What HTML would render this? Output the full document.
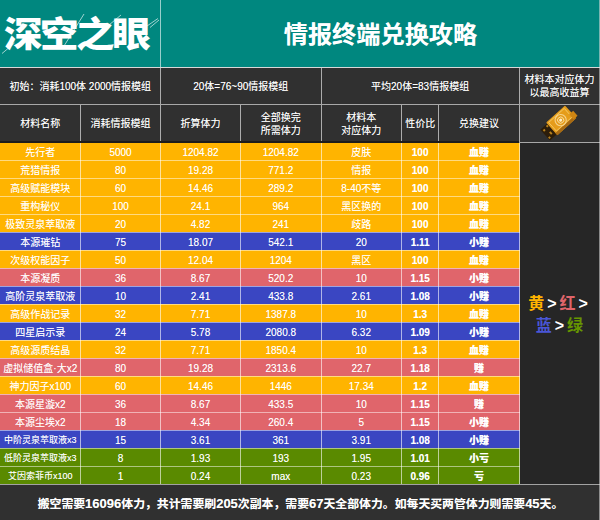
<!DOCTYPE html><html lang="zh"><head><meta charset="utf-8"><title>情报终端兑换攻略</title><style>
html,body{margin:0;padding:0;background:#2b2b2b;}
body{width:600px;height:520px;overflow:hidden;position:relative;font-family:"Liberation Sans","Noto Sans CJK SC",sans-serif;color:#fff;}
.a{position:absolute;}
.c{position:absolute;display:flex;align-items:center;justify-content:center;text-align:center;font-size:10px;line-height:13px;white-space:nowrap;}
.o{background:#ffb400;}.b{background:#3a46c2;}.r{background:#e0656b;}.g{background:#5a8a00;}
.bd{font-weight:bold;}.bk{font-weight:900;}
.c{text-shadow:0 0 0.6px rgba(255,255,255,.55);}
.vl{position:absolute;width:1px;background:rgba(255,255,255,.6);}
.hl{position:absolute;height:1px;background:rgba(255,255,255,.5);}
.hd{background:#303030;}
#foot b{font-size:13px;}

</style></head><body>
<div class="a" style="left:0;top:0;width:600px;height:67px;background:#00877f"></div>
<div class="a" id="logo" style="left:3.7px;top:9px;width:160px;height:52px;font-size:35.2px;line-height:52px;font-weight:900;font-family:'Liberation Sans','Noto Sans CJK SC',sans-serif;white-space:nowrap;letter-spacing:-2.3px;transform-origin:0 50%;transform:scale(1.095,1)">深空之眼</div>
<svg class="a" style="left:0;top:0" width="165" height="67" viewBox="0 0 165 67"><g stroke="rgba(255,255,255,.7)" stroke-width="0.9" fill="none"><path d="M2 53.5L14.5 43"/><path d="M64 46L84 14"/><path d="M109 25L121 15"/><path d="M147 26L158 18.5"/><path d="M150 27.5L159 20"/></g></svg>
<div class="c bd" id="title" style="left:160.5px;top:9.5px;width:440px;height:50px;font-size:24.2px;line-height:30px;">情报终端兑换攻略</div>
<div class="a hd" style="left:0;top:68px;width:600px;height:74.3px"></div>
<div class="a" style="left:519.7px;top:142px;width:81px;height:343px;background:#262626"></div>
<div class="c " style="left:0px;top:68px;width:160.50px;height:36.50px;">初始：消耗100体 2000情报模组</div>
<div class="c " style="left:160.5px;top:68px;width:160.50px;height:36.50px;">20体=76~90情报模组</div>
<div class="c " style="left:321px;top:68px;width:198.20px;height:36.50px;">平均20体=83情报模组</div>
<div class="c " style="left:519.2px;top:68px;width:80.80px;height:36.50px;">材料本对应体力<br>以最高收益算</div>
<div class="c " style="left:0px;top:105px;width:80.50px;height:37.00px;">材料名称</div>
<div class="c " style="left:80.5px;top:105px;width:80.00px;height:37.00px;">消耗情报模组</div>
<div class="c " style="left:160.5px;top:105px;width:80.00px;height:37.00px;">折算体力</div>
<div class="c " style="left:240.5px;top:105px;width:80.50px;height:37.00px;">全部换完<br>所需体力</div>
<div class="c " style="left:321px;top:105px;width:80.50px;height:37.00px;">材料本<br>对应体力</div>
<div class="c " style="left:401.5px;top:105px;width:37.30px;height:37.00px;">性价比</div>
<div class="c " style="left:438.8px;top:105px;width:80.40px;height:37.00px;">兑换建议</div>
<div class="a o" style="left:0;top:142.40px;width:519.7px;height:18.29px"></div>
<div class="c " style="left:0px;top:144.0px;width:80.50px;height:16.39px;">先行者</div>
<div class="c " style="left:80.5px;top:144.0px;width:80.00px;height:16.39px;">5000</div>
<div class="c " style="left:160.5px;top:144.0px;width:80.00px;height:16.39px;">1204.82</div>
<div class="c " style="left:240.5px;top:144.0px;width:80.50px;height:16.39px;">1204.82</div>
<div class="c " style="left:321px;top:144.0px;width:80.50px;height:16.39px;">皮肤</div>
<div class="c bd" style="left:401.5px;top:144.0px;width:37.30px;height:16.39px;">100</div>
<div class="c bk" style="left:438.8px;top:144.0px;width:80.40px;height:16.39px;">血赚</div>
<div class="a o" style="left:0;top:160.39px;width:519.7px;height:18.29px"></div>
<div class="c " style="left:0px;top:161.99px;width:80.50px;height:16.39px;">荒猎情报</div>
<div class="c " style="left:80.5px;top:161.99px;width:80.00px;height:16.39px;">80</div>
<div class="c " style="left:160.5px;top:161.99px;width:80.00px;height:16.39px;">19.28</div>
<div class="c " style="left:240.5px;top:161.99px;width:80.50px;height:16.39px;">771.2</div>
<div class="c " style="left:321px;top:161.99px;width:80.50px;height:16.39px;">情报</div>
<div class="c bd" style="left:401.5px;top:161.99px;width:37.30px;height:16.39px;">100</div>
<div class="c bk" style="left:438.8px;top:161.99px;width:80.40px;height:16.39px;">血赚</div>
<div class="a o" style="left:0;top:178.38px;width:519.7px;height:18.29px"></div>
<div class="c " style="left:0px;top:179.98px;width:80.50px;height:16.39px;">高级赋能模块</div>
<div class="c " style="left:80.5px;top:179.98px;width:80.00px;height:16.39px;">60</div>
<div class="c " style="left:160.5px;top:179.98px;width:80.00px;height:16.39px;">14.46</div>
<div class="c " style="left:240.5px;top:179.98px;width:80.50px;height:16.39px;">289.2</div>
<div class="c " style="left:321px;top:179.98px;width:80.50px;height:16.39px;">8-40不等</div>
<div class="c bd" style="left:401.5px;top:179.98px;width:37.30px;height:16.39px;">100</div>
<div class="c bk" style="left:438.8px;top:179.98px;width:80.40px;height:16.39px;">血赚</div>
<div class="a o" style="left:0;top:196.37px;width:519.7px;height:18.29px"></div>
<div class="c " style="left:0px;top:197.97px;width:80.50px;height:16.39px;">重构秘仪</div>
<div class="c " style="left:80.5px;top:197.97px;width:80.00px;height:16.39px;">100</div>
<div class="c " style="left:160.5px;top:197.97px;width:80.00px;height:16.39px;">24.1</div>
<div class="c " style="left:240.5px;top:197.97px;width:80.50px;height:16.39px;">964</div>
<div class="c " style="left:321px;top:197.97px;width:80.50px;height:16.39px;">黑区换的</div>
<div class="c bd" style="left:401.5px;top:197.97px;width:37.30px;height:16.39px;">100</div>
<div class="c bk" style="left:438.8px;top:197.97px;width:80.40px;height:16.39px;">血赚</div>
<div class="a o" style="left:0;top:214.36px;width:519.7px;height:18.29px"></div>
<div class="c " style="left:0px;top:215.96px;width:80.50px;height:16.39px;">极致灵泉萃取液</div>
<div class="c " style="left:80.5px;top:215.96px;width:80.00px;height:16.39px;">20</div>
<div class="c " style="left:160.5px;top:215.96px;width:80.00px;height:16.39px;">4.82</div>
<div class="c " style="left:240.5px;top:215.96px;width:80.50px;height:16.39px;">241</div>
<div class="c " style="left:321px;top:215.96px;width:80.50px;height:16.39px;">歧路</div>
<div class="c bd" style="left:401.5px;top:215.96px;width:37.30px;height:16.39px;">100</div>
<div class="c bk" style="left:438.8px;top:215.96px;width:80.40px;height:16.39px;">血赚</div>
<div class="a b" style="left:0;top:232.35px;width:519.7px;height:18.29px"></div>
<div class="c " style="left:0px;top:233.95px;width:80.50px;height:16.39px;">本源璀钻</div>
<div class="c " style="left:80.5px;top:233.95px;width:80.00px;height:16.39px;">75</div>
<div class="c " style="left:160.5px;top:233.95px;width:80.00px;height:16.39px;">18.07</div>
<div class="c " style="left:240.5px;top:233.95px;width:80.50px;height:16.39px;">542.1</div>
<div class="c " style="left:321px;top:233.95px;width:80.50px;height:16.39px;">20</div>
<div class="c bd" style="left:401.5px;top:233.95px;width:37.30px;height:16.39px;">1.11</div>
<div class="c bk" style="left:438.8px;top:233.95px;width:80.40px;height:16.39px;">小赚</div>
<div class="a o" style="left:0;top:250.34px;width:519.7px;height:18.29px"></div>
<div class="c " style="left:0px;top:251.94px;width:80.50px;height:16.39px;">次级权能因子</div>
<div class="c " style="left:80.5px;top:251.94px;width:80.00px;height:16.39px;">50</div>
<div class="c " style="left:160.5px;top:251.94px;width:80.00px;height:16.39px;">12.04</div>
<div class="c " style="left:240.5px;top:251.94px;width:80.50px;height:16.39px;">1204</div>
<div class="c " style="left:321px;top:251.94px;width:80.50px;height:16.39px;">黑区</div>
<div class="c bd" style="left:401.5px;top:251.94px;width:37.30px;height:16.39px;">100</div>
<div class="c bk" style="left:438.8px;top:251.94px;width:80.40px;height:16.39px;">血赚</div>
<div class="a r" style="left:0;top:268.33px;width:519.7px;height:18.29px"></div>
<div class="c " style="left:0px;top:269.93px;width:80.50px;height:16.39px;">本源凝质</div>
<div class="c " style="left:80.5px;top:269.93px;width:80.00px;height:16.39px;">36</div>
<div class="c " style="left:160.5px;top:269.93px;width:80.00px;height:16.39px;">8.67</div>
<div class="c " style="left:240.5px;top:269.93px;width:80.50px;height:16.39px;">520.2</div>
<div class="c " style="left:321px;top:269.93px;width:80.50px;height:16.39px;">10</div>
<div class="c bd" style="left:401.5px;top:269.93px;width:37.30px;height:16.39px;">1.15</div>
<div class="c bk" style="left:438.8px;top:269.93px;width:80.40px;height:16.39px;">小赚</div>
<div class="a b" style="left:0;top:286.32px;width:519.7px;height:18.29px"></div>
<div class="c " style="left:0px;top:287.92px;width:80.50px;height:16.39px;">高阶灵泉萃取液</div>
<div class="c " style="left:80.5px;top:287.92px;width:80.00px;height:16.39px;">10</div>
<div class="c " style="left:160.5px;top:287.92px;width:80.00px;height:16.39px;">2.41</div>
<div class="c " style="left:240.5px;top:287.92px;width:80.50px;height:16.39px;">433.8</div>
<div class="c " style="left:321px;top:287.92px;width:80.50px;height:16.39px;">2.61</div>
<div class="c bd" style="left:401.5px;top:287.92px;width:37.30px;height:16.39px;">1.08</div>
<div class="c bk" style="left:438.8px;top:287.92px;width:80.40px;height:16.39px;">小赚</div>
<div class="a o" style="left:0;top:304.31px;width:519.7px;height:18.29px"></div>
<div class="c " style="left:0px;top:305.91px;width:80.50px;height:16.39px;">高级作战记录</div>
<div class="c " style="left:80.5px;top:305.91px;width:80.00px;height:16.39px;">32</div>
<div class="c " style="left:160.5px;top:305.91px;width:80.00px;height:16.39px;">7.71</div>
<div class="c " style="left:240.5px;top:305.91px;width:80.50px;height:16.39px;">1387.8</div>
<div class="c " style="left:321px;top:305.91px;width:80.50px;height:16.39px;">10</div>
<div class="c bd" style="left:401.5px;top:305.91px;width:37.30px;height:16.39px;">1.3</div>
<div class="c bk" style="left:438.8px;top:305.91px;width:80.40px;height:16.39px;">血赚</div>
<div class="a b" style="left:0;top:322.30px;width:519.7px;height:18.29px"></div>
<div class="c " style="left:0px;top:323.9px;width:80.50px;height:16.39px;">四星启示录</div>
<div class="c " style="left:80.5px;top:323.9px;width:80.00px;height:16.39px;">24</div>
<div class="c " style="left:160.5px;top:323.9px;width:80.00px;height:16.39px;">5.78</div>
<div class="c " style="left:240.5px;top:323.9px;width:80.50px;height:16.39px;">2080.8</div>
<div class="c " style="left:321px;top:323.9px;width:80.50px;height:16.39px;">6.32</div>
<div class="c bd" style="left:401.5px;top:323.9px;width:37.30px;height:16.39px;">1.09</div>
<div class="c bk" style="left:438.8px;top:323.9px;width:80.40px;height:16.39px;">小赚</div>
<div class="a o" style="left:0;top:340.29px;width:519.7px;height:18.29px"></div>
<div class="c " style="left:0px;top:341.89px;width:80.50px;height:16.39px;">高级源质结晶</div>
<div class="c " style="left:80.5px;top:341.89px;width:80.00px;height:16.39px;">32</div>
<div class="c " style="left:160.5px;top:341.89px;width:80.00px;height:16.39px;">7.71</div>
<div class="c " style="left:240.5px;top:341.89px;width:80.50px;height:16.39px;">1850.4</div>
<div class="c " style="left:321px;top:341.89px;width:80.50px;height:16.39px;">10</div>
<div class="c bd" style="left:401.5px;top:341.89px;width:37.30px;height:16.39px;">1.3</div>
<div class="c bk" style="left:438.8px;top:341.89px;width:80.40px;height:16.39px;">血赚</div>
<div class="a r" style="left:0;top:358.28px;width:519.7px;height:18.29px"></div>
<div class="c " style="left:0px;top:359.88px;width:80.50px;height:16.39px;">虚拟储值盒·大x2</div>
<div class="c " style="left:80.5px;top:359.88px;width:80.00px;height:16.39px;">80</div>
<div class="c " style="left:160.5px;top:359.88px;width:80.00px;height:16.39px;">19.28</div>
<div class="c " style="left:240.5px;top:359.88px;width:80.50px;height:16.39px;">2313.6</div>
<div class="c " style="left:321px;top:359.88px;width:80.50px;height:16.39px;">22.7</div>
<div class="c bd" style="left:401.5px;top:359.88px;width:37.30px;height:16.39px;">1.18</div>
<div class="c bk" style="left:438.8px;top:359.88px;width:80.40px;height:16.39px;">赚</div>
<div class="a o" style="left:0;top:376.27px;width:519.7px;height:18.29px"></div>
<div class="c " style="left:0px;top:377.87px;width:80.50px;height:16.39px;">神力因子x100</div>
<div class="c " style="left:80.5px;top:377.87px;width:80.00px;height:16.39px;">60</div>
<div class="c " style="left:160.5px;top:377.87px;width:80.00px;height:16.39px;">14.46</div>
<div class="c " style="left:240.5px;top:377.87px;width:80.50px;height:16.39px;">1446</div>
<div class="c " style="left:321px;top:377.87px;width:80.50px;height:16.39px;">17.34</div>
<div class="c bd" style="left:401.5px;top:377.87px;width:37.30px;height:16.39px;">1.2</div>
<div class="c bk" style="left:438.8px;top:377.87px;width:80.40px;height:16.39px;">血赚</div>
<div class="a r" style="left:0;top:394.26px;width:519.7px;height:18.29px"></div>
<div class="c " style="left:0px;top:395.86px;width:80.50px;height:16.39px;">本源星漩x2</div>
<div class="c " style="left:80.5px;top:395.86px;width:80.00px;height:16.39px;">36</div>
<div class="c " style="left:160.5px;top:395.86px;width:80.00px;height:16.39px;">8.67</div>
<div class="c " style="left:240.5px;top:395.86px;width:80.50px;height:16.39px;">433.5</div>
<div class="c " style="left:321px;top:395.86px;width:80.50px;height:16.39px;">10</div>
<div class="c bd" style="left:401.5px;top:395.86px;width:37.30px;height:16.39px;">1.15</div>
<div class="c bk" style="left:438.8px;top:395.86px;width:80.40px;height:16.39px;">赚</div>
<div class="a r" style="left:0;top:412.25px;width:519.7px;height:18.29px"></div>
<div class="c " style="left:0px;top:413.85px;width:80.50px;height:16.39px;">本源尘埃x2</div>
<div class="c " style="left:80.5px;top:413.85px;width:80.00px;height:16.39px;">18</div>
<div class="c " style="left:160.5px;top:413.85px;width:80.00px;height:16.39px;">4.34</div>
<div class="c " style="left:240.5px;top:413.85px;width:80.50px;height:16.39px;">260.4</div>
<div class="c " style="left:321px;top:413.85px;width:80.50px;height:16.39px;">5</div>
<div class="c bd" style="left:401.5px;top:413.85px;width:37.30px;height:16.39px;">1.15</div>
<div class="c bk" style="left:438.8px;top:413.85px;width:80.40px;height:16.39px;">小赚</div>
<div class="a b" style="left:0;top:430.24px;width:519.7px;height:18.29px"></div>
<div class="c " style="left:0px;top:431.84000000000003px;width:80.50px;height:16.39px;font-size:9px;">中阶灵泉萃取液x3</div>
<div class="c " style="left:80.5px;top:431.84000000000003px;width:80.00px;height:16.39px;">15</div>
<div class="c " style="left:160.5px;top:431.84000000000003px;width:80.00px;height:16.39px;">3.61</div>
<div class="c " style="left:240.5px;top:431.84000000000003px;width:80.50px;height:16.39px;">361</div>
<div class="c " style="left:321px;top:431.84000000000003px;width:80.50px;height:16.39px;">3.91</div>
<div class="c bd" style="left:401.5px;top:431.84000000000003px;width:37.30px;height:16.39px;">1.08</div>
<div class="c bk" style="left:438.8px;top:431.84000000000003px;width:80.40px;height:16.39px;">小赚</div>
<div class="a g" style="left:0;top:448.23px;width:519.7px;height:18.29px"></div>
<div class="c " style="left:0px;top:449.83000000000004px;width:80.50px;height:16.39px;font-size:9px;">低阶灵泉萃取液x3</div>
<div class="c " style="left:80.5px;top:449.83000000000004px;width:80.00px;height:16.39px;">8</div>
<div class="c " style="left:160.5px;top:449.83000000000004px;width:80.00px;height:16.39px;">1.93</div>
<div class="c " style="left:240.5px;top:449.83000000000004px;width:80.50px;height:16.39px;">193</div>
<div class="c " style="left:321px;top:449.83000000000004px;width:80.50px;height:16.39px;">1.95</div>
<div class="c bd" style="left:401.5px;top:449.83000000000004px;width:37.30px;height:16.39px;">1.01</div>
<div class="c bk" style="left:438.8px;top:449.83000000000004px;width:80.40px;height:16.39px;">小亏</div>
<div class="a g" style="left:0;top:466.22px;width:519.7px;height:18.29px"></div>
<div class="c " style="left:0px;top:467.82000000000005px;width:80.50px;height:16.39px;font-size:9px;">艾因索菲币x100</div>
<div class="c " style="left:80.5px;top:467.82000000000005px;width:80.00px;height:16.39px;">1</div>
<div class="c " style="left:160.5px;top:467.82000000000005px;width:80.00px;height:16.39px;">0.24</div>
<div class="c " style="left:240.5px;top:467.82000000000005px;width:80.50px;height:16.39px;">max</div>
<div class="c " style="left:321px;top:467.82000000000005px;width:80.50px;height:16.39px;">0.23</div>
<div class="c bd" style="left:401.5px;top:467.82000000000005px;width:37.30px;height:16.39px;">0.96</div>
<div class="c bk" style="left:438.8px;top:467.82000000000005px;width:80.40px;height:16.39px;">亏</div>
<div class="hl" style="left:0;top:159.89px;width:519.7px"></div>
<div class="hl" style="left:0;top:177.88px;width:519.7px"></div>
<div class="hl" style="left:0;top:195.87px;width:519.7px"></div>
<div class="hl" style="left:0;top:213.86px;width:519.7px"></div>
<div class="hl" style="left:0;top:231.85px;width:519.7px"></div>
<div class="hl" style="left:0;top:249.84px;width:519.7px"></div>
<div class="hl" style="left:0;top:267.83px;width:519.7px"></div>
<div class="hl" style="left:0;top:285.82px;width:519.7px"></div>
<div class="hl" style="left:0;top:303.81px;width:519.7px"></div>
<div class="hl" style="left:0;top:321.80px;width:519.7px"></div>
<div class="hl" style="left:0;top:339.79px;width:519.7px"></div>
<div class="hl" style="left:0;top:357.78px;width:519.7px"></div>
<div class="hl" style="left:0;top:375.77px;width:519.7px"></div>
<div class="hl" style="left:0;top:393.76px;width:519.7px"></div>
<div class="hl" style="left:0;top:411.75px;width:519.7px"></div>
<div class="hl" style="left:0;top:429.74px;width:519.7px"></div>
<div class="hl" style="left:0;top:447.73px;width:519.7px"></div>
<div class="hl" style="left:0;top:465.72px;width:519.7px"></div>
<div class="vl" style="left:80.00px;top:105px;height:380px"></div>
<div class="vl" style="left:160.00px;top:105px;height:380px"></div>
<div class="vl" style="left:240.00px;top:105px;height:380px"></div>
<div class="vl" style="left:320.50px;top:105px;height:380px"></div>
<div class="vl" style="left:401.00px;top:105px;height:380px"></div>
<div class="vl" style="left:438.30px;top:105px;height:380px"></div>
<div class="vl" style="left:518.70px;top:105px;height:380px"></div>
<div class="vl" style="left:160.00px;top:0px;height:105px;"></div>
<div class="vl" style="left:320.50px;top:0px;height:105px;height:37px;top:68px;"></div>
<div class="vl" style="left:518.70px;top:0px;height:105px;height:37px;top:68px;"></div>
<div class="hl" style="left:0;top:67px;width:600px;background:#d8d8d8"></div>
<div class="hl" style="left:0;top:104px;width:600px;background:#a8a8a8"></div>
<div class="hl" style="left:0;top:141px;width:519px;height:1.5px;background:#1c1c1c"></div>
<div class="hl" style="left:519.2px;top:141.7px;width:81px;background:#a8a8a8"></div>
<div class="c bd" id="legend" style="left:518px;top:291.5px;width:80px;height:46px;font-size:16px;line-height:22px;word-spacing:-1.5px;text-shadow:none;"><span><span style="color:#ffb400">黄</span> &gt; <span style="color:#e0656b">红</span> &gt;<br><span style="color:#4a56d6;margin-left:3px">蓝</span> &gt; <span style="color:#669600">绿</span></span></div>
<svg class="a" style="left:530px;top:100px" width="60" height="45" viewBox="0 0 60 45">
<g transform="translate(31,20.5) rotate(-42)">
<rect x="-21.5" y="-7" width="11" height="14.5" fill="#2c1d0a"/>
<path d="M-20 -5h2v2h-2zM-17 1h2v3h-2zM-21 4h2v2h-2zM-15 -6h2v2h-2z" fill="#b8821e"/>
<rect x="-12.5" y="-8.5" width="25.5" height="17" rx="1" fill="#e59c1a"/>
<rect x="-12.5" y="5.5" width="25.5" height="3" fill="#a86a12"/>
<rect x="-10.5" y="-6.8" width="21" height="11.6" fill="none" stroke="#f4c864" stroke-width="0.9"/>
<rect x="10" y="1" width="5.5" height="6.5" fill="#cf8512"/>
<circle cx="0" cy="-0.5" r="5.6" fill="none" stroke="#f6d38c" stroke-width="1.1"/>
<circle cx="0" cy="-0.5" r="3.1" fill="none" stroke="#f9dfa6" stroke-width="0.9"/>
<circle cx="0" cy="-0.5" r="1.5" fill="#fdeecb"/>
</g></svg>
<div class="a" style="left:0;top:484.2px;width:600px;height:36px;background:#303030"></div>
<div class="hl" style="left:0;top:483.8px;width:600px;background:rgba(200,200,200,.75)"></div>
<div class="vl" style="left:598.6px;top:0;height:520px;background:rgba(220,220,220,.55)"></div>
<div class="c bd" id="foot" style="left:0;top:486.5px;width:600px;height:34px;font-size:11.87px;"><span style="margin-left:1px">搬空需要<b>16096</b>体力，共计需要刷<b>205</b>次副本，需要<b>67</b>天全部体力。如每天买两管体力则需要<b>45</b>天。</span></div>
</body></html>
